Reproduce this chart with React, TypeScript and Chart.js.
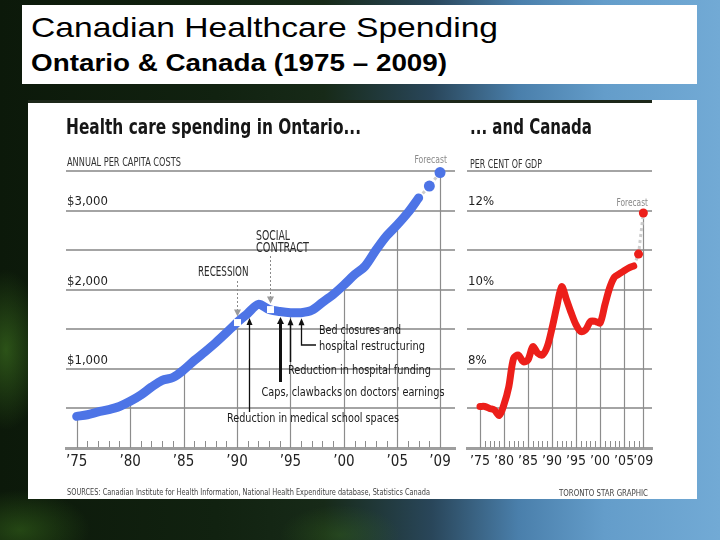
import React, { useEffect, useRef } from "react";
import { Chart, registerables } from "chart.js";

Chart.register(...registerables);

// ---------- DATA ----------
const YEARS = [
  1975, 1976, 1977, 1978, 1979, 1980, 1981, 1982, 1983, 1984, 1985, 1986, 1987, 1988, 1989, 1990, 1991,
  1992, 1993, 1994, 1995, 1996, 1997, 1998, 1999, 2000, 2001, 2002, 2003, 2004, 2005, 2006, 2007,
];
// Ontario: annual per capita health care costs ($)
const ONTARIO = [
  400, 420, 455, 485, 525, 590, 670, 770, 855, 890, 985, 1105, 1215, 1330, 1455, 1585, 1700,
  1815, 1750, 1725, 1710, 1710, 1740, 1840, 1940, 2060, 2190, 2300, 2500, 2680, 2820, 2975, 3160,
];
const FORECAST_YEARS = [2008, 2009];
const ONTARIO_FORECAST = [3310, 3480];
// Canada: health care spending, per cent of GDP
const CANADA = [
  7.05, 7.05, 7.0, 6.96, 6.82, 7.1, 7.55, 8.27, 8.35, 8.18, 8.23, 8.56, 8.4, 8.35, 8.56, 9.03, 9.58,
  10.08, 9.75, 9.41, 9.11, 8.94, 8.99, 9.2, 9.2, 9.16, 9.62, 10.05, 10.32, 10.4, 10.48, 10.55, 10.6,
];
const CANADA_FORECAST = [10.9, 11.94];

const MAJOR_YEARS = [1975, 1980, 1985, 1990, 1995, 2000, 2005, 2009];
const ONTARIO_GRID = [0, 500, 1000, 1500, 2000, 2500, 3000, 3500];
const ONTARIO_LABELED = [1000, 2000, 3000];
const CANADA_GRID = [6, 7, 8, 9, 10, 11, 12, 13];
const CANADA_LABELED = [8, 10, 12];

const ONTARIO_MARKERS = [
  { year: 1990, label: ["RECESSION"] },
  { year: 1993.05, label: ["SOCIAL", "CONTRACT"] },
];
const ONTARIO_EVENTS = [
  { year: 1991.1, label: ["Reduction in medical school spaces"] },
  { year: 1994.0, label: ["Caps, clawbacks on doctors' earnings"] },
  { year: 1995.0, label: ["Reduction in hospital funding"] },
  { year: 1996.0, label: ["Bed closures and", "hospital restructuring"] },
];

const TITLE = "Canadian Healthcare Spending";
const SUBTITLE = "Ontario & Canada (1975 \u2013 2009)";
const LEFT_TITLE = "Health care spending in Ontario...";
const LEFT_SUB = "ANNUAL PER CAPITA COSTS";
const RIGHT_TITLE = "... and Canada";
const RIGHT_SUB = "PER CENT OF GDP";
const FORECAST_LABEL = "Forecast";
const SOURCES = "SOURCES: Canadian Institute for Health Information, National Health Expenditure database, Statistics Canada";
const CREDIT = "TORONTO STAR GRAPHIC";

// ---------- STYLE ----------
const NARROW =
  '"Liberation Sans Narrow", "Arial Narrow", "DejaVu Sans Condensed", "Roboto Condensed", "Liberation Sans", sans-serif';
const BLUE = "#4d74e6";
const RED = "#ec1f1a";
const GRID = "#a4a4a4";
const IMG_TOP = 103;

type Txt = { text: string; x: number; base: number; w: number; size: number; bold?: boolean; color?: string; right?: boolean };

function drawFit(ctx: CanvasRenderingContext2D, t: Txt, ox: number) {
  ctx.save();
  ctx.font = `${t.bold ? "bold " : ""}${t.size}px ${NARROW}`;
  const m = ctx.measureText(t.text).width || 1;
  const s = t.w / m;
  const left = (t.right ? t.x - t.w : t.x) - ox;
  ctx.translate(left, t.base - IMG_TOP);
  ctx.scale(s, 1);
  ctx.fillStyle = t.color || "#222";
  ctx.textAlign = "left";
  ctx.textBaseline = "alphabetic";
  ctx.fillText(t.text, 0, 0);
  ctx.restore();
}

function curvePx(chart: any, years: number[], vals: number[], yr: number) {
  const xs = chart.scales.x;
  const ys = chart.scales.y;
  let i1 = years.findIndex((y) => y >= yr);
  if (i1 <= 0) i1 = 1;
  const i0 = i1 - 1;
  const t = (yr - years[i0]) / (years[i1] - years[i0]);
  const p0 = ys.getPixelForValue(vals[i0]);
  const p1 = ys.getPixelForValue(vals[i1]);
  return { x: xs.getPixelForValue(yr), y: p0 + (p1 - p0) * t };
}

function makeDropLines(years: number[], vals: number[]) {
  return {
    id: "dropLines",
    beforeDatasetsDraw(chart: any) {
      const ctx = chart.ctx;
      const xs = chart.scales.x;
      const ys = chart.scales.y;
      const bottom = chart.chartArea.bottom;
      ctx.save();
      ctx.strokeStyle = "#8c8c8c";
      ctx.lineWidth = 1;
      for (let yr = years[0]; yr <= years[years.length - 1]; yr++) {
        const x = Math.round(xs.getPixelForValue(yr)) + 0.5;
        ctx.beginPath();
        ctx.moveTo(x, bottom - 1);
        ctx.lineTo(x, bottom - 7);
        ctx.stroke();
      }
      ctx.lineWidth = 1.2;
      MAJOR_YEARS.forEach((yr) => {
        const idx = years.indexOf(yr);
        if (idx < 0) return;
        const x = Math.round(xs.getPixelForValue(yr)) + 0.5;
        ctx.beginPath();
        ctx.moveTo(x, bottom);
        ctx.lineTo(x, ys.getPixelForValue(vals[idx]));
        ctx.stroke();
      });
      ctx.restore();
    },
  };
}

function arrowUp(ctx: CanvasRenderingContext2D, x: number, tip: number, w: number, h: number) {
  ctx.beginPath();
  ctx.moveTo(x, tip);
  ctx.lineTo(x - w / 2, tip + h);
  ctx.lineTo(x + w / 2, tip + h);
  ctx.closePath();
  ctx.fill();
}

const LEFT_OX = 28;
const RIGHT_OX = 462;

const leftNotes = {
  id: "leftNotes",
  afterDatasetsDraw(chart: any) {
    const ctx: CanvasRenderingContext2D = chart.ctx;
    const oy = IMG_TOP;
    drawFit(ctx, { text: LEFT_TITLE, x: 66, base: 133.5, w: 295, size: 22, bold: true, color: "#161616" }, LEFT_OX);
    drawFit(ctx, { text: LEFT_SUB, x: 67, base: 166, w: 114, size: 12, color: "#333" }, LEFT_OX);
    drawFit(ctx, { text: FORECAST_LABEL, x: 447, base: 163, w: 32.5, size: 11, color: "#8a8a8a", right: true }, LEFT_OX);
    drawFit(ctx, { text: SOURCES, x: 67, base: 494.5, w: 363, size: 9, color: "#444" }, LEFT_OX);

    const markerTextPos = [
      { tops: [{ x: 198, base: 276, w: 50.5 }], lineTop: 281 },
      { tops: [{ x: 256, base: 239.5, w: 34 }, { x: 256, base: 252, w: 53 }], lineTop: 256 },
    ];
    ONTARIO_MARKERS.forEach((m, i) => {
      const pos = markerTextPos[i];
      m.label.forEach((ln, j) => {
        const p = pos.tops[j];
        drawFit(ctx, { text: ln, x: p.x, base: p.base, w: p.w, size: 14, color: "#2a2a2a" }, LEFT_OX);
      });
      const c = curvePx(chart, YEARS, ONTARIO, m.year);
      const x = Math.round(c.x) + 0.5;
      ctx.save();
      ctx.strokeStyle = "#8a8a8a";
      ctx.fillStyle = "#9a9a9a";
      ctx.lineWidth = 1;
      ctx.setLineDash([2, 2]);
      ctx.beginPath();
      ctx.moveTo(x, pos.lineTop - oy);
      ctx.lineTo(x, c.y - 12);
      ctx.stroke();
      ctx.setLineDash([]);
      ctx.beginPath();
      ctx.moveTo(x - 3.5, c.y - 13);
      ctx.lineTo(x, c.y - 6);
      ctx.lineTo(x + 3.5, c.y - 13);
      ctx.closePath();
      ctx.fill();
      ctx.fillStyle = "#ffffff";
      ctx.fillRect(x - 3.5, c.y - 3.5, 7, 7);
      ctx.restore();
    });

    const evText = [
      [{ x: 227, base: 422, w: 172 }],
      [{ x: 261.5, base: 395.5, w: 183 }],
      [{ x: 288, base: 373.5, w: 143 }],
      [{ x: 319, base: 334, w: 82 }, { x: 319, base: 350, w: 106 }],
    ];
    const evBottom = [412, 382, 362, 345];
    const evWidth = [1.3, 3, 1.5, 1.3];
    ONTARIO_EVENTS.forEach((ev, i) => {
      const c = curvePx(chart, YEARS, ONTARIO, ev.year);
      const x = Math.round(c.x) + 0.5;
      const tip = c.y + 5.5;
      ctx.save();
      ctx.strokeStyle = "#111";
      ctx.fillStyle = "#111";
      ctx.lineWidth = evWidth[i];
      ctx.beginPath();
      ctx.moveTo(x, tip + 5);
      ctx.lineTo(x, evBottom[i] - oy);
      if (i === 3) ctx.lineTo(316 - LEFT_OX, evBottom[i] - oy);
      ctx.stroke();
      arrowUp(ctx, x, tip, i === 1 ? 7 : 6, 7);
      ctx.restore();
      ev.label.forEach((ln, j) => {
        const p = evText[i][j];
        drawFit(ctx, { text: ln, x: p.x, base: p.base, w: p.w, size: 13, color: "#1a1a1a" }, LEFT_OX);
      });
    });
  },
};

const rightNotes = {
  id: "rightNotes",
  afterDatasetsDraw(chart: any) {
    const ctx: CanvasRenderingContext2D = chart.ctx;
    drawFit(ctx, { text: RIGHT_TITLE, x: 470, base: 133.5, w: 122, size: 22, bold: true, color: "#161616" }, RIGHT_OX);
    drawFit(ctx, { text: RIGHT_SUB, x: 470, base: 168, w: 72, size: 12, color: "#333" }, RIGHT_OX);
    drawFit(ctx, { text: FORECAST_LABEL, x: 648, base: 205.5, w: 31.5, size: 11, color: "#8a8a8a", right: true }, RIGHT_OX);
    drawFit(ctx, { text: CREDIT, x: 559, base: 496, w: 89, size: 9, color: "#444" }, RIGHT_OX);
  },
};

function buildConfig(p: {
  years: number[];
  vals: number[];
  fYears: number[];
  fVals: number[];
  color: string;
  lineWidth: number;
  dot: number;
  xMin: number;
  xMax: number;
  yMin: number;
  yMax: number;
  grid: number[];
  labeled: number[];
  fmt: (v: number) => string;
  pad: { left: number; right: number };
  tickSize: number;
  notes: any;
}) {
  const actual = p.years.map((x, i) => ({ x, y: p.vals[i] }));
  const forecast = [
    { x: p.years[p.years.length - 1], y: p.vals[p.vals.length - 1] },
    ...p.fYears.map((x, i) => ({ x, y: p.fVals[i] })),
  ];
  const allYears = [...p.years, ...p.fYears];
  const allVals = [...p.vals, ...p.fVals];
  return {
    type: "line" as const,
    data: {
      datasets: [
        {
          data: actual,
          borderColor: p.color,
          borderWidth: p.lineWidth,
          pointRadius: 0,
          tension: 0.3,
          borderCapStyle: "round" as const,
          borderJoinStyle: "round" as const,
          clip: false,
          order: 0,
        },
        {
          data: forecast,
          borderColor: "#cdcdcd",
          borderWidth: 3,
          borderDash: [3, 3],
          pointRadius: (c: any) => (c.dataIndex === 0 ? 0 : p.dot),
          pointBackgroundColor: p.color,
          pointBorderWidth: 0,
          tension: 0,
          clip: false,
          order: 1,
        },
      ],
    },
    options: {
      animation: false as const,
      responsive: false,
      devicePixelRatio: 1,
      events: [],
      layout: { padding: { left: p.pad.left, right: p.pad.right, top: 68, bottom: 21 } },
      plugins: { legend: { display: false }, tooltip: { enabled: false }, title: { display: false } },
      scales: {
        x: {
          type: "linear" as const,
          min: p.xMin,
          max: p.xMax,
          grid: { display: false, drawTicks: false },
          border: { display: true, color: "#9e9e9e", width: 3 },
          afterBuildTicks: (s: any) => {
            s.ticks = MAJOR_YEARS.map((v) => ({ value: v }));
          },
          afterFit: (s: any) => {
            s.height = 30;
          },
          ticks: {
            autoSkip: false,
            maxRotation: 0,
            padding: 5,
            color: "#222",
            font: { family: NARROW, size: p.tickSize },
            callback: (v: any) => "\u2019" + String(v).slice(2),
          },
        },
        y: {
          type: "linear" as const,
          min: p.yMin,
          max: p.yMax,
          afterBuildTicks: (s: any) => {
            s.ticks = p.grid.map((v) => ({ value: v }));
          },
          afterFit: (s: any) => {
            s.width = 0;
          },
          grid: { color: GRID, lineWidth: 2, drawTicks: false },
          border: { display: false },
          ticks: {
            mirror: true,
            padding: 1,
            labelOffset: -8.5,
            color: "#222",
            font: { family: NARROW, size: 13 },
            callback: (v: any) => (p.labeled.includes(v) ? p.fmt(v) : ""),
          },
        },
      },
    },
    plugins: [makeDropLines(allYears, allVals), p.notes],
  };
}

function Panel(props: { left: number; width: number; config: () => any }) {
  const ref = useRef<HTMLCanvasElement | null>(null);
  useEffect(() => {
    if (!ref.current) return;
    const chart = new Chart(ref.current, props.config());
    return () => chart.destroy();
  }, []);
  return (
    <canvas
      ref={ref}
      width={props.width}
      height={396}
      style={{ position: "absolute", left: props.left, top: IMG_TOP, width: props.width, height: 396 }}
    />
  );
}

export default function App() {
  return (
    <div
      style={{
        position: "fixed",
        left: 0,
        top: 0,
        width: 720,
        height: 540,
        overflow: "hidden",
        background:
          "radial-gradient(ellipse 38px 80px at 6px 350px, rgba(70,130,35,0.55), rgba(70,130,35,0) 100%)," +
          "radial-gradient(ellipse 70px 40px at 20px 530px, rgba(60,115,30,0.5), rgba(60,115,30,0) 100%)," +
          "radial-gradient(ellipse 60px 30px at 340px 535px, rgba(60,115,30,0.35), rgba(60,115,30,0) 100%)," +
          "linear-gradient(90deg, #0c190a 0%, #112210 30%, #172a18 45%, #29465a 60%, #4a7fab 72%, #649dca 84%, #72aad5 100%)",
      }}
    >
      <div style={{ position: "absolute", left: 22, top: 5, width: 675, height: 79, background: "#fff" }} />
      <div
        style={{
          position: "absolute",
          left: 31,
          top: 14.3,
          fontFamily: '"Liberation Sans", Arial, sans-serif',
          fontSize: 28,
          lineHeight: 1,
          whiteSpace: "nowrap",
          color: "#000",
          transform: "scaleX(1.2)",
          transformOrigin: "0 0",
        }}
      >
        {TITLE}
      </div>
      <div
        style={{
          position: "absolute",
          left: 31,
          top: 52,
          fontFamily: '"Liberation Sans", Arial, sans-serif',
          fontSize: 23,
          fontWeight: "bold",
          lineHeight: 1,
          whiteSpace: "nowrap",
          color: "#000",
          transform: "scaleX(1.21)",
          transformOrigin: "0 0",
        }}
      >
        {SUBTITLE}
      </div>
      <div style={{ position: "absolute", left: 28, top: 100, width: 669, height: 399, background: "#fff" }} />
      <div style={{ position: "absolute", left: 28, top: 100, width: 624, height: 3, background: "#1c2719" }} />
      <Panel
        left={RIGHT_OX}
        width={235}
        config={() =>
          buildConfig({
            years: YEARS,
            vals: CANADA,
            fYears: FORECAST_YEARS,
            fVals: CANADA_FORECAST,
            color: RED,
            lineWidth: 7,
            dot: 4.5,
            xMin: 1972.3,
            xMax: 2010.8,
            yMin: 6,
            yMax: 13,
            grid: CANADA_GRID,
            labeled: CANADA_LABELED,
            fmt: (v) => v + "%",
            pad: { left: 5, right: 45 },
            tickSize: 14,
            notes: rightNotes,
          })
        }
      />
      <Panel
        left={LEFT_OX}
        width={434}
        config={() =>
          buildConfig({
            years: YEARS,
            vals: ONTARIO,
            fYears: FORECAST_YEARS,
            fVals: ONTARIO_FORECAST,
            color: BLUE,
            lineWidth: 9,
            dot: 5.5,
            xMin: 1974,
            xMax: 2010.4,
            yMin: 0,
            yMax: 3500,
            grid: ONTARIO_GRID,
            labeled: ONTARIO_LABELED,
            fmt: (v) => "$" + v.toLocaleString("en-US"),
            pad: { left: 38, right: 7 },
            tickSize: 15,
            notes: leftNotes,
          })
        }
      />
    </div>
  );
}
